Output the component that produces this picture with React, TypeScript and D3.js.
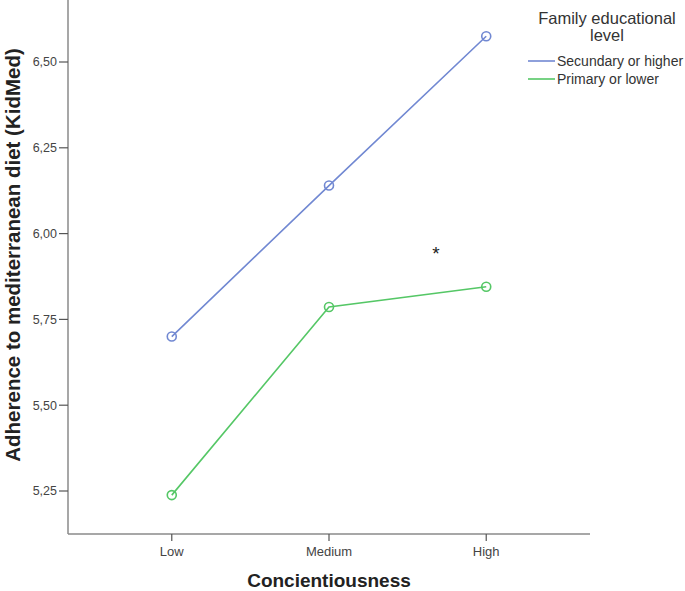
import React from "react";
import * as d3 from "d3";

const categories = ["Low", "Medium", "High"];
const seriesNames = ["Secundary or higher", "Primary or lower"];
const secundaryValues = [5.70, 6.14, 6.575];
const primaryValues = [5.238, 5.786, 5.845];
const yTicks = [5.25, 5.5, 5.75, 6.0, 6.25, 6.5];
const seriesColors = ["#7188d2", "#55c766"];

const W = 685;
const H = 591;
const left = 68;
const right = 590;
const axisBottom = 534;

export default function App() {
  const x = d3.scalePoint<string>().domain(categories).range([left, right]).padding(0.66);
  const y = d3.scaleLinear().domain([5.25, 6.5]).range([491, 62]);
  const line = d3
    .line<number>()
    .x((_, i) => x(categories[i]) as number)
    .y((d) => y(d));
  const fmt = (v: number) => d3.format(".2f")(v).replace(".", ",");
  const series = [secundaryValues, primaryValues];
  const font = "'Liberation Sans', Arial, sans-serif";

  return (
    <svg width={W} height={H} style={{ display: "block", position: "absolute", left: 0, top: 0 }} fontFamily={font}>
      <rect width={W} height={H} fill="#fff" />
      {/* y axis */}
      <line x1={left} x2={left} y1={0} y2={axisBottom} stroke="#8a8a8a" strokeWidth={1.5} />
      {yTicks.map((t) => (
        <g key={t}>
          <line x1={left - 9} x2={left} y1={y(t)} y2={y(t)} stroke="#555" strokeWidth={1.2} />
          <text x={left - 11} y={y(t)} dy="0.35em" textAnchor="end" fontSize={12.5} fill="#444">
            {fmt(t)}
          </text>
        </g>
      ))}
      {/* x axis */}
      <line x1={left} x2={right} y1={axisBottom} y2={axisBottom} stroke="#8a8a8a" strokeWidth={1.5} />
      {categories.map((c) => (
        <g key={c}>
          <line x1={x(c)} x2={x(c)} y1={axisBottom} y2={axisBottom + 7} stroke="#555" strokeWidth={1.2} />
          <text x={x(c)} y={axisBottom + 22} textAnchor="middle" fontSize={13} fill="#444">
            {c}
          </text>
        </g>
      ))}
      {/* titles */}
      <text x={(x("Medium") as number)} y={587} textAnchor="middle" fontSize={19} fontWeight="bold" fill="#222">
        Concientiousness
      </text>
      <text
        transform={`translate(20, 255) rotate(-90)`}
        textAnchor="middle"
        fontSize={20.5}
        fontWeight="bold"
        fill="#222"
      >
        Adherence to mediterranean diet (KidMed)
      </text>
      {/* lines */}
      {series.map((s, si) => (
        <g key={si}>
          <path d={line(s) || ""} fill="none" stroke={seriesColors[si]} strokeWidth={1.6} />
          {s.map((v, i) => (
            <circle key={i} cx={x(categories[i])} cy={y(v)} r={4.5} fill="none" stroke={seriesColors[si]} strokeWidth={1.6} />
          ))}
        </g>
      ))}
      {/* asterisk */}
      <text x={436} y={260} textAnchor="middle" fontSize={19} fill="#222">
        *
      </text>
      {/* legend */}
      <text x={607} y={24} textAnchor="middle" fontSize={16.5} fill="#333">
        Family educational
      </text>
      <text x={607} y={41} textAnchor="middle" fontSize={16.5} fill="#333">
        level
      </text>
      {seriesNames.map((n, i) => (
        <g key={n}>
          <line x1={528} x2={555} y1={61 + i * 18} y2={61 + i * 18} stroke={seriesColors[i]} strokeWidth={1.6} />
          <text x={557} y={61 + i * 18} dy="0.35em" fontSize={14} fill="#333">
            {n}
          </text>
        </g>
      ))}
    </svg>
  );
}
